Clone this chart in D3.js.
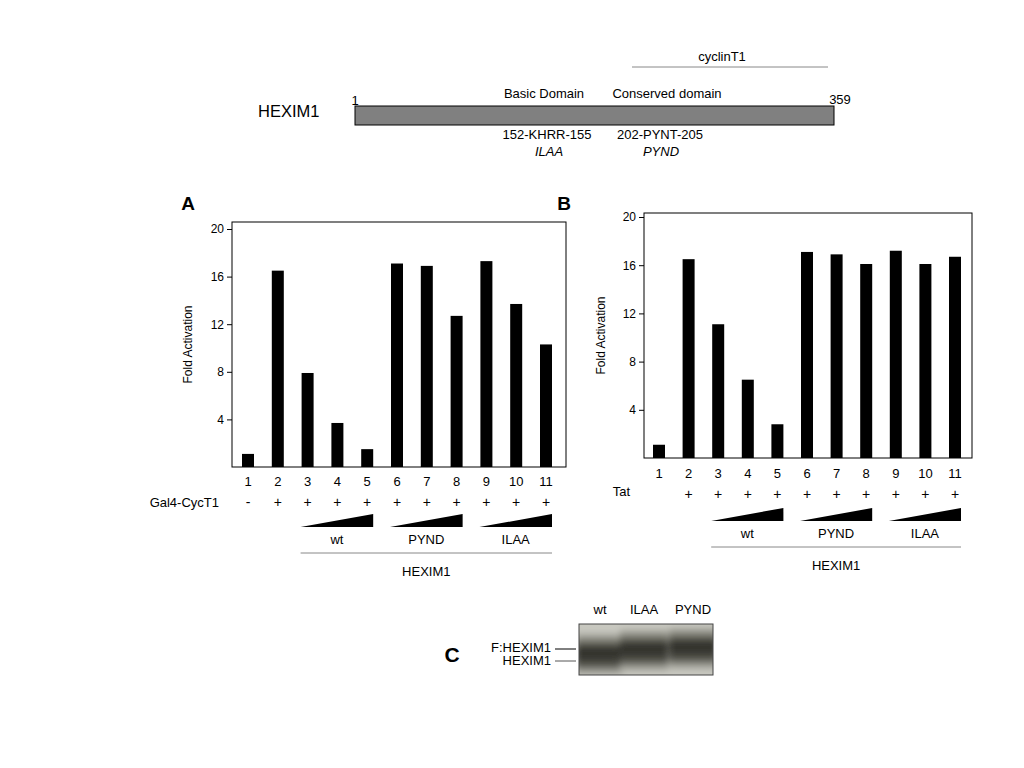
<!DOCTYPE html>
<html><head><meta charset="utf-8">
<script src="https://cdn.jsdelivr.net/npm/d3@7"></script>
<style>body{margin:0;background:#fff}text{font-family:"Liberation Sans",Arial,sans-serif}</style>
</head><body><svg id="c" width="1024" height="768"></svg>
<script>
const lanes = ["1","2","3","4","5","6","7","8","9","10","11"];
const valuesA = [1.1,16.5,7.9,3.7,1.5,17.1,16.9,12.7,17.3,13.7,10.3];
const valuesB = [1.1,16.5,11.1,6.5,2.8,17.1,16.9,16.1,17.2,16.1,16.7];
const yTicks = [4,8,12,16,20];
const signsA = ["-","+","+","+","+","+","+","+","+","+","+"];
const signsB = ["","+","+","+","+","+","+","+","+","+","+"];
const groups = [{name:"wt",from:2,to:4},{name:"PYND",from:5,to:7},{name:"ILAA",from:8,to:10}];

const svg = d3.select("#c");
const T=(x,y,s,o={})=>{const t=svg.append("text").attr("x",x).attr("y",y).text(s).attr("font-size",o.fs||13).attr("text-anchor",o.a||"start");if(o.it)t.attr("font-style","italic");if(o.b)t.attr("font-weight","bold");return t;};

T(258,117,"HEXIM1",{fs:16.5});
svg.append("rect").attr("x",355).attr("y",106).attr("width",479).attr("height",19).attr("fill","#808080").attr("stroke","#000");
T(355,105,"1",{a:"middle"});T(840,104,"359",{a:"middle"});
T(544,98,"Basic Domain",{a:"middle"});T(667,98,"Conserved domain",{a:"middle"});
svg.append("line").attr("x1",632).attr("x2",828).attr("y1",67).attr("y2",67).attr("stroke","#888");
T(722,61,"cyclinT1",{a:"middle"});
T(547,139,"152-KHRR-155",{a:"middle"});T(549,156,"ILAA",{a:"middle",it:1});
T(660,139,"202-PYNT-205",{a:"middle"});T(661,156,"PYND",{a:"middle",it:1});

function panel(o){
  const {x0,x1,yTop,yBot,y0,vals,signs,label,lx,ly,sideLabel,sideX,ylx}=o;
  const g=svg.append("g");
  const y=d3.scaleLinear().domain([0,20]).range([y0,o.y20]);
  const x=d3.scalePoint().domain(lanes).range([o.l1,o.l11]);
  g.append("rect").attr("x",x0).attr("y",yTop).attr("width",x1-x0).attr("height",yBot-yTop).attr("fill","none").attr("stroke","#000");
  const ax=g.append("g").attr("transform",`translate(${x0},0)`).call(d3.axisLeft(y).tickValues(yTicks).tickSize(5).tickSizeOuter(0));
  ax.select(".domain").remove();ax.selectAll("text").attr("font-size",12).attr("font-family","Liberation Sans,Arial");
  g.selectAll(".bar").data(vals).join("rect").attr("x",(d,i)=>x(lanes[i])-6).attr("width",12)
    .attr("y",d=>y(d)).attr("height",d=>y0-y(d)).attr("fill","#000");
  T(ylx,(yTop+yBot)/2,"Fold Activation",{fs:12,a:"middle"}).attr("transform",`rotate(-90,${ylx},${(yTop+yBot)/2})`);
  lanes.forEach((l,i)=>{T(x(l),yBot+o.laneDy,l,{a:"middle"});if(signs[i])T(x(l),yBot+o.signDy,signs[i],{a:"middle",fs:14});});
  T(sideX,yBot+o.sideDy,sideLabel,{a:"end"});
  const yb=yBot+o.triDy;
  groups.forEach(gr=>{
    const a=x(lanes[gr.from])-7,b=x(lanes[gr.to])+6;
    g.append("path").attr("d",`M${a},${yb}L${b},${yb}L${b},${yb-13}Z`).attr("fill","#000");
    T((a+b)/2,yb+17,gr.name,{a:"middle"});
  });
  const la=x(lanes[2])-7,lb=x(lanes[10])+6,ly2=yb+26;
  g.append("line").attr("x1",la).attr("x2",lb).attr("y1",ly2).attr("y2",ly2).attr("stroke","#888");
  T((la+lb)/2,ly2+23,"HEXIM1",{a:"middle"});
  T(lx,ly,label,{fs:19,b:1,a:"middle"});
}
panel({x0:232,x1:566,yTop:222,yBot:467,y0:467,y20:229,l1:248,l11:546,vals:valuesA,signs:signsA,label:"A",lx:188,ly:210,sideLabel:"Gal4-CycT1",sideX:219,sideDy:40,laneDy:19,signDy:40,triDy:60,ylx:192});
panel({x0:644,x1:972,yTop:213,yBot:458,y0:458,y20:217,l1:659,l11:955,vals:valuesB,signs:signsB,label:"B",lx:564,ly:210,sideLabel:"Tat",sideX:630,sideDy:38,laneDy:20,signDy:41,triDy:63,ylx:605});

const defs=svg.append("defs");
defs.append("filter").attr("id","bl").append("feGaussianBlur").attr("stdDeviation",3);
const gr=defs.append("linearGradient").attr("id","gel").attr("x1",0).attr("x2",0).attr("y1",0).attr("y2",1);
[[0,"#c8c8c0"],[0.2,"#7a7a70"],[0.4,"#2e2e28"],[0.6,"#3a3a33"],[0.75,"#55554d"],[0.9,"#a0a098"],[1,"#c0c0b8"]].forEach(s=>gr.append("stop").attr("offset",s[0]).attr("stop-color",s[1]));
svg.append("clipPath").attr("id","gc").append("rect").attr("x",579).attr("y",624).attr("width",134).attr("height",51);
svg.append("rect").attr("x",579).attr("y",624).attr("width",134).attr("height",51).attr("fill","#c8c8c0");
const gg=svg.append("g").attr("clip-path","url(#gc)").append("g").attr("filter","url(#bl)");
["wt","ILAA","PYND"].forEach((n,i)=>{
  const cx=[600,644,693][i];
  gg.append("rect").attr("x",cx-24).attr("y",[632,628,626][i]).attr("width",48).attr("height",44).attr("fill","url(#gel)");
  T(cx,614,n,{a:"middle"});
});
svg.append("rect").attr("x",579).attr("y",624).attr("width",134).attr("height",51).attr("fill","none").attr("stroke","#444");
T(551,652,"F:HEXIM1",{a:"end"});T(551,665,"HEXIM1",{a:"end"});
svg.append("line").attr("x1",555).attr("x2",576).attr("y1",649).attr("y2",649).attr("stroke","#000");
svg.append("line").attr("x1",555).attr("x2",576).attr("y1",661).attr("y2",661).attr("stroke","#555");
T(452,662,"C",{fs:21,b:1,a:"middle"});
</script></body></html>
